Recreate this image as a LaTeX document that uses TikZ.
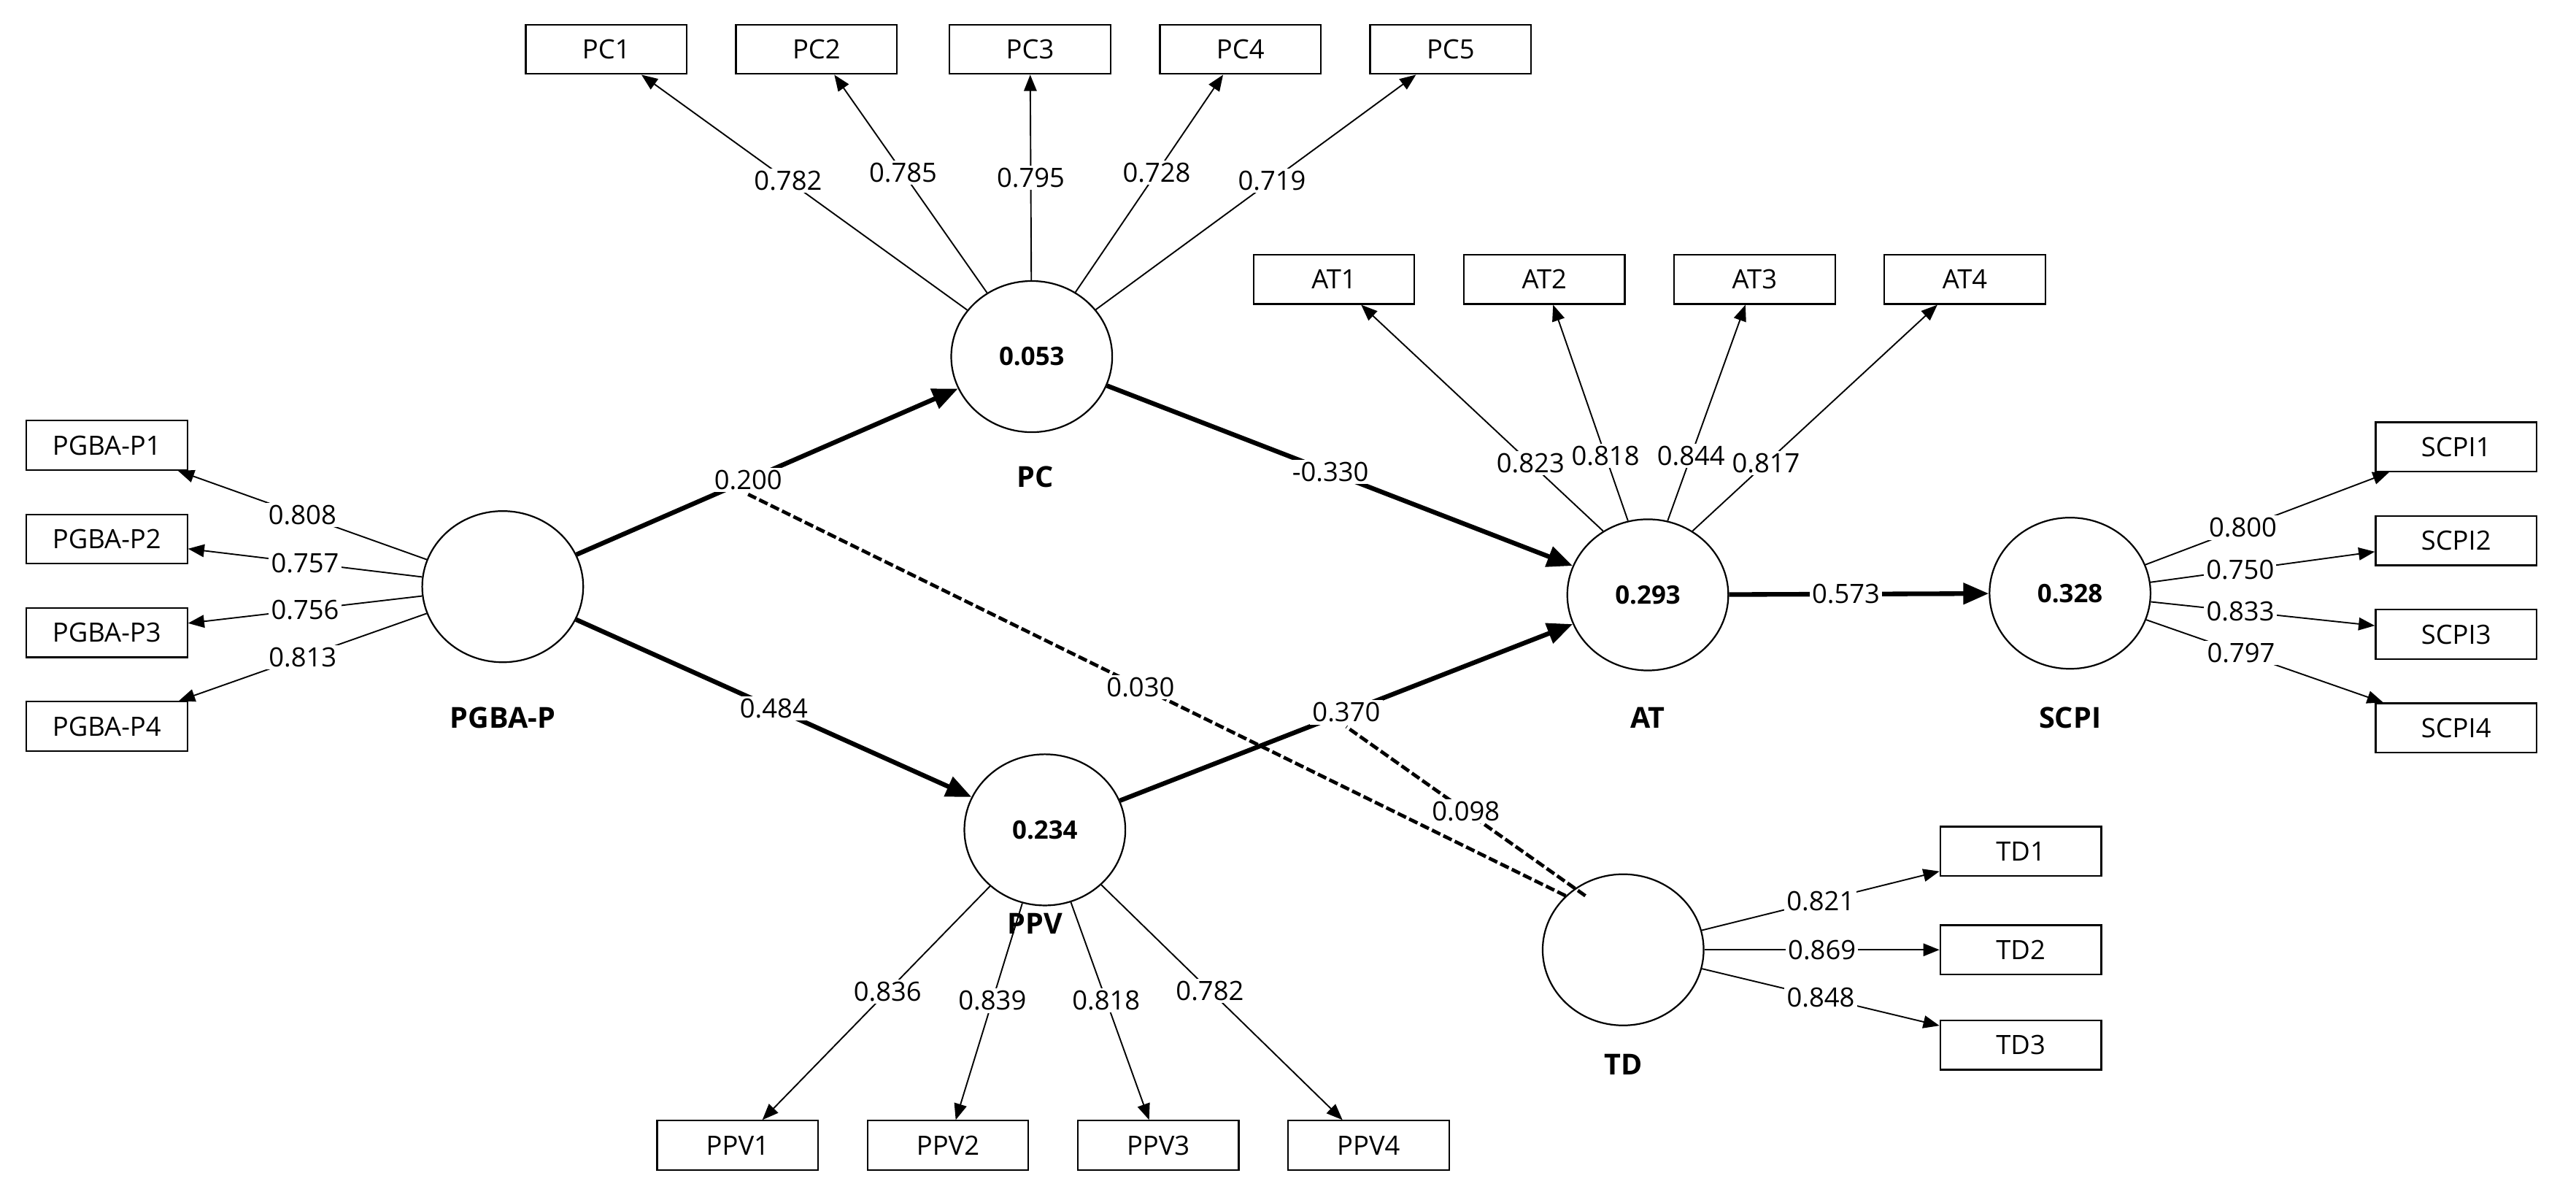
\documentclass[tikz,border=0pt]{standalone}
\usepackage{fontspec}
\setmainfont{Open Sans}
\usetikzlibrary{shapes.geometric,arrows.meta}
\begin{document}
\begin{tikzpicture}[x=0.05cm,y=-0.05cm,
  lv/.style={ellipse,draw,line width=1.4pt,minimum width=4.9cm,minimum height=4.6cm,font=\fontsize{22}{26}\selectfont\bfseries,inner sep=0pt},
  box/.style={draw,line width=1.4pt,minimum width=4.9cm,minimum height=1.5cm,font=\fontsize{23}{26}\selectfont,inner sep=0pt},
  nm/.style={font=\fontsize{25}{28}\selectfont\bfseries},
  ld/.style={draw,line width=1.2pt,-{Triangle[length=14pt,width=11pt]}},
  st/.style={draw,line width=4pt,-{Triangle[length=22pt,width=18pt]}},
  mo/.style={draw,line width=3pt,dash pattern=on 8pt off 3pt},
  lab/.style={fill=white,inner sep=2pt,font=\fontsize{23}{26}\selectfont}]
\useasboundingbox (0,0) rectangle (1568,730);
% latent variables
\node[lv] (pc) at (628,217) {0.053};
\node[lv] (pg) at (306,357) {};
\node[lv] (at) at (1003,362) {0.293};
\node[lv] (sc) at (1260,361) {0.328};
\node[lv] (pv) at (636,505) {0.234};
\node[lv] (td) at (988,578) {};
% names
\node[nm] (npc) at (630,290) {PC};
\node[nm] (npg) at (306,437) {PGBA-P};
\node[nm] (nat) at (1003,437) {AT};
\node[nm] (nsc) at (1260,437) {SCPI};
\node[nm] (npv) at (630,562) {PPV};
\node[nm] (ntd) at (988,648) {TD};
% boxes
\foreach \i/\x in {1/369,2/497,3/627,4/755,5/883} \node[box] (pc\i) at (\x,30) {PC\i};
\foreach \i/\x in {1/812,2/940,3/1068,4/1196} \node[box] (at\i) at (\x,170) {AT\i};
\foreach \i/\y in {1/271,2/328,3/385,4/442} \node[box] (pg\i) at (65,\y) {PGBA-P\i};
\foreach \i/\y in {1/272,2/329,3/386,4/443} \node[box] (sc\i) at (1495,\y) {SCPI\i};
\foreach \i/\y in {1/518,2/578,3/636} \node[box] (td\i) at (1230,\y) {TD\i};
\foreach \i/\x in {1/449,2/577,3/705,4/833} \node[box] (pv\i) at (\x,697) {PPV\i};
% loadings
\foreach \i/\v/\p in {1/0.782/0.55,2/0.785/0.55,3/0.795/0.5,4/0.728/0.55,5/0.719/0.55}
  \path[ld] (pc) -- (pc\i) node[lab,pos=\p] {\v};
\foreach \i/\v/\a in {1/0.823/125,2/0.818/105,3/0.844/75,4/0.817/55}
  \path[ld] (at.\a) -- (at\i) node[lab,pos=0.3] {\v};
\foreach \i/\v in {1/0.808,2/0.757,3/0.756,4/0.813}
  \path[ld] (pg) -- (pg\i) node[lab,pos=0.5] {\v};
\foreach \i/\v in {1/0.800,2/0.750,3/0.833,4/0.797}
  \path[ld] (sc) -- (sc\i) node[lab,pos=0.4] {\v};
\foreach \i/\v in {1/0.821,2/0.869,3/0.848}
  \path[ld] (td) -- (td\i) node[lab,pos=0.5] {\v};
\foreach \i/\v in {1/0.836,2/0.839,3/0.818,4/0.782}
  \path[ld] (pv) -- (pv\i) node[lab,pos=0.45] {\v};
% structural
\path[st] (pg) -- (pc) node[lab,pos=0.45] (l200) {0.200};
\path[st] (pg) -- (pv) node[lab,pos=0.5] {0.484};
\path[st] (pc) -- (at) node[lab,pos=0.48] {-0.330};
\path[st] (pv) -- (at) node[lab,pos=0.5] (l370) {0.370};
\path[st] (at) -- (sc) node[lab,pos=0.45] {0.573};
% moderating
\path[mo] (td.north west) -- (l200.south) node[lab,pos=0.52] {0.030};
\path[mo] ([xshift=0.6cm]td.north west) -- (l370.south) node[lab,pos=0.5] {0.098};
\end{tikzpicture}
\end{document}
